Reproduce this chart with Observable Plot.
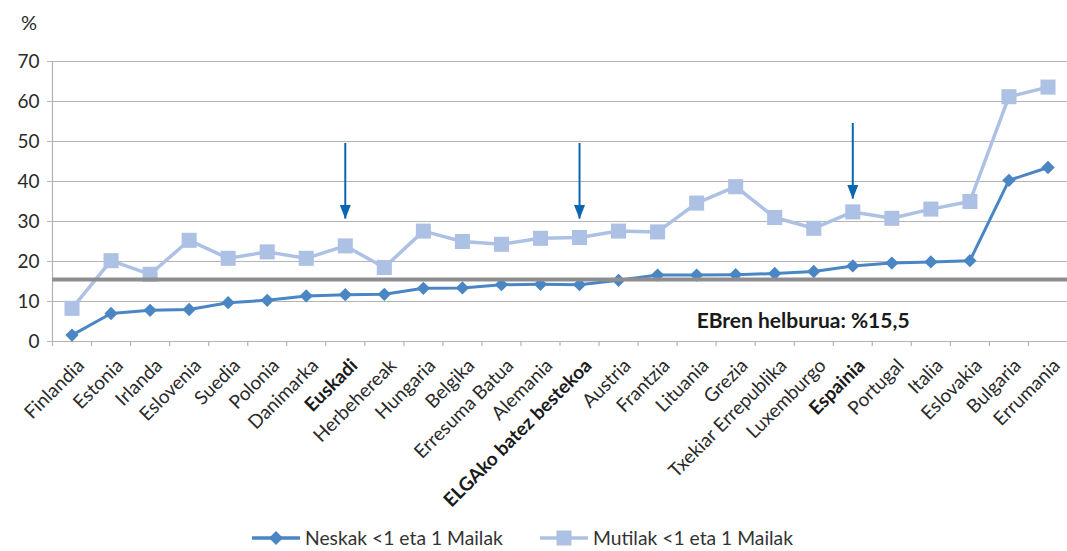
<!DOCTYPE html>
<html><head><meta charset="utf-8">
<script src="https://cdn.jsdelivr.net/npm/d3@7"></script>
<script src="https://cdn.jsdelivr.net/npm/@observablehq/plot@0.6"></script>
<style>
html,body{margin:0;padding:0;background:#fff;}
#wrap{position:relative;width:1067px;height:551px;font-family:Lato,"Open Sans",sans-serif;color:#2a2a2a;overflow:hidden;background:#fff}
#pct{position:absolute;left:21px;top:10px;font-size:20px;z-index:2}
.leg{position:absolute;top:526px;display:flex;align-items:center;font-size:19.3px;color:#333;white-space:nowrap;z-index:2}
.leg svg{margin-right:5px}
</style></head><body><div id="wrap"><div id="pct">%</div></div>
<script>
const countries = ["Finlandia","Estonia","Irlanda","Eslovenia","Suedia","Polonia","Danimarka","Euskadi","Herbehereak","Hungaria","Belgika","Erresuma Batua","Alemania","ELGAko batez bestekoa","Austria","Frantzia","Lituania","Grezia","Txekiar Errepublika","Luxemburgo","Espainia","Portugal","Italia","Eslovakia","Bulgaria","Errumania"];
const neskak = [1.6,7.0,7.8,8.0,9.7,10.3,11.4,11.7,11.8,13.3,13.4,14.2,14.3,14.2,15.3,16.6,16.6,16.7,17.0,17.5,18.9,19.6,19.9,20.2,40.3,43.5];
const mutilak = [8.3,20.2,16.8,25.3,20.8,22.4,20.8,23.9,18.5,27.6,25.0,24.3,25.8,26.0,27.6,27.4,34.6,38.7,31.0,28.3,32.4,30.8,33.1,35.0,61.2,63.6];
const seriesNames = ["Neskak <1 eta 1 Mailak","Mutilak <1 eta 1 Mailak"];
const boldLabels = ["Euskadi","ELGAko batez bestekoa","Espainia"];
const yTicks = [0,10,20,30,40,50,60,70];
const goal = 15.5;
const goalLabel = "EBren helburua: %15,5";
const arrowCountries = ["Euskadi","ELGAko batez bestekoa","Espainia"];
const arrowTop = [49.5,49.5,54.5];
const arrowBottom = [30.6,30.6,35.6];

const W = 1067, H = 520, mL = 52, mR = 0, mT = 61, xAxisY = 341;
const step = (W - mL - mR) / countries.length;
const cGirls = "#4a86c4", cBoys = "#adc1e4", cGoal = "#8e8e90", cGrid = "#b4b4b4", cArrow = "#0b66b0";

const girls = countries.map((c,i)=>({c, v: neskak[i]}));
const boys = countries.map((c,i)=>({c, v: mutilak[i]}));
const arrows = arrowCountries.map((c,i)=>({c, top: arrowTop[i], bottom: arrowBottom[i]}));

const downTriangle = {draw(ctx){ ctx.moveTo(-5.5,-14); ctx.lineTo(5.5,-14); ctx.lineTo(0,0); ctx.closePath(); }};
const labelOpts = {x: d => d, y: 0, text: d => d, rotate: -45, textAnchor: "end", dx: 9, dy: 21, fontSize: 19};

const chart = Plot.plot({
  width: W, height: H,
  marginLeft: mL, marginRight: mR, marginTop: mT, marginBottom: H - xAxisY,
  style: {fontFamily: "Lato, 'Open Sans', sans-serif", background: "transparent", color: "#2a2a2a", overflow: "visible"},
  x: {type: "band", domain: countries, padding: 0, round: false, axis: null, label: null},
  y: {domain: [0,70], axis: null, label: null},
  marks: [
    Plot.ruleY(yTicks, {stroke: cGrid, strokeWidth: 1.2}),
    Plot.ruleX([countries[0]], {y1: 0, y2: 70, dx: -step/2, stroke: cGrid, strokeWidth: 1.2}),
    Plot.ruleX(countries, {y1: 0, y2: -1.25, dx: -step/2, stroke: cGrid, strokeWidth: 1.2}),
    Plot.axisY({ticks: yTicks, tickSize: 5, tickPadding: 8, label: null, stroke: cGrid, fill: "#2a2a2a", fontSize: 19}),
    Plot.text(countries.filter(c => !boldLabels.includes(c)), {...labelOpts, fill: "#2a2a2a"}),
    Plot.text(countries.filter(c => boldLabels.includes(c)), {...labelOpts, fontWeight: "bold", fill: "#1a1a1a"}),
    Plot.lineY(boys, {x: "c", y: "v", stroke: cBoys, strokeWidth: 3.5}),
    Plot.dot(boys, {x: "c", y: "v", symbol: "square", r: 8.5, fill: cBoys}),
    Plot.lineY(girls, {x: "c", y: "v", stroke: cGirls, strokeWidth: 3}),
    Plot.dot(girls, {x: "c", y: "v", symbol: "diamond2", r: 6, fill: cGirls}),
    Plot.ruleY([goal], {stroke: cGoal, strokeWidth: 4}),
    Plot.text([goalLabel], {x: () => "Lituania", y: 5, text: d => d, textAnchor: "start", fontSize: 21, fontWeight: "bold", fill: "#1a1a1a"}),
    Plot.ruleX(arrows, {x: "c", y1: "top", y2: "bottom", stroke: cArrow, strokeWidth: 2}),
    Plot.dot(arrows, {x: "c", y: "bottom", symbol: downTriangle, fill: cArrow, stroke: "none"})
  ]
});
const wrap = document.getElementById("wrap");
chart.style.position = "absolute"; chart.style.left = "0"; chart.style.top = "0";
wrap.appendChild(chart);

function legendItem(left, name, color, kind){
  const d = document.createElement("div");
  d.className = "leg"; d.style.left = left + "px";
  const shape = kind === "diamond"
    ? `<polygon points="24,3 31,10 24,17 17,10" fill="${color}"/>`
    : `<rect x="16.5" y="2.5" width="15" height="15" fill="${color}"/>`;
  d.innerHTML = `<svg width="48" height="20"><line x1="0" y1="10" x2="48" y2="10" stroke="${color}" stroke-width="3.5"/>${shape}</svg><span>${name}</span>`;
  wrap.appendChild(d);
}
legendItem(252, seriesNames[0], cGirls, "diamond");
legendItem(540, seriesNames[1], cBoys, "square");
</script></body></html>
